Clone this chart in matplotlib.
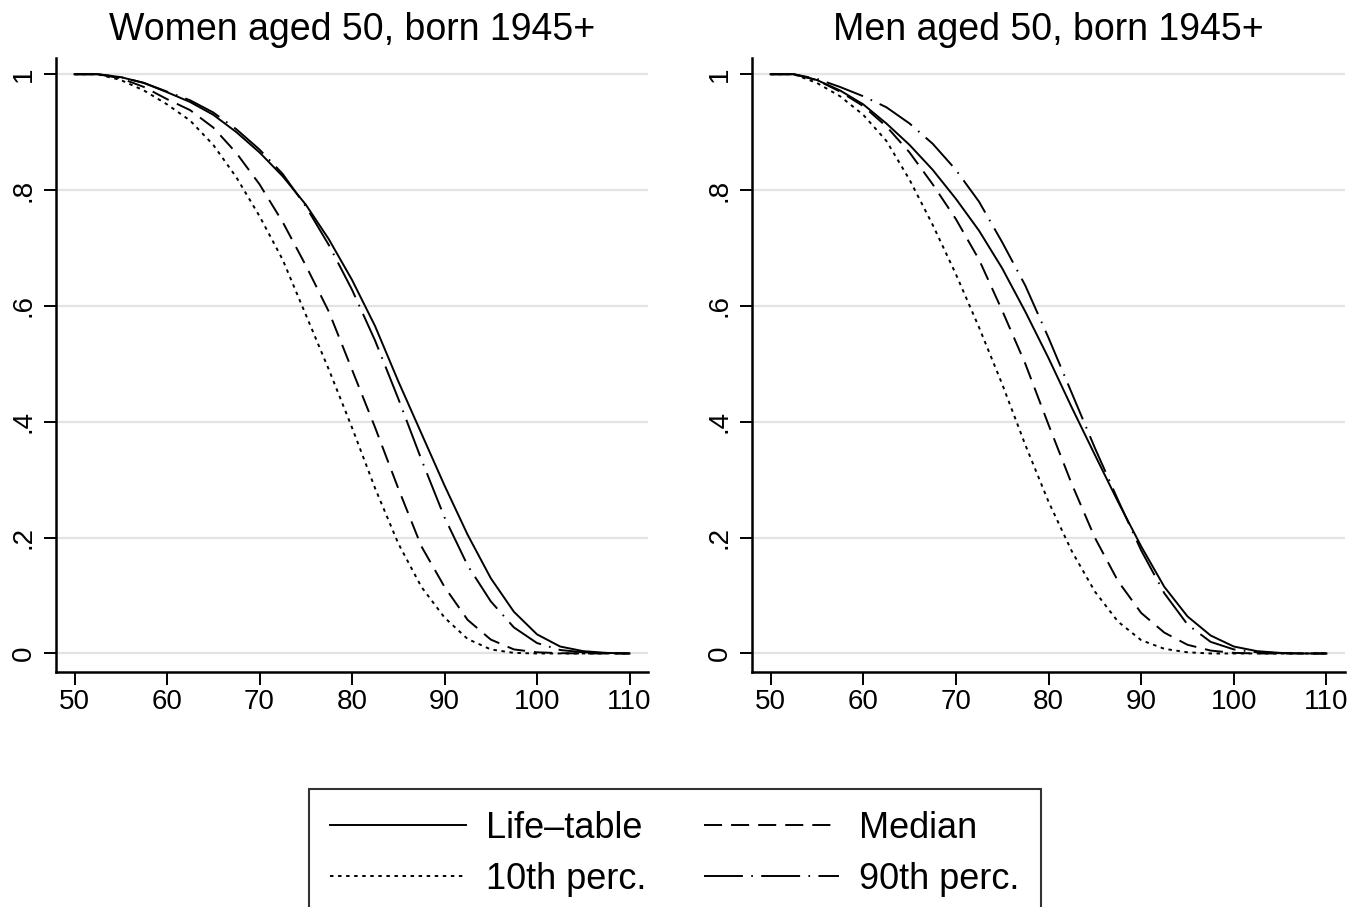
import matplotlib
matplotlib.use('Agg')
import matplotlib.pyplot as plt

plt.rcParams['font.family'] = ['Liberation Sans', 'DejaVu Sans']
plt.rcParams['lines.scale_dashes'] = False

# ages on the x axis (years)
ages = [50, 52.5, 55, 57.5, 60, 62.5, 65, 67.5, 70, 72.5, 75, 77.5, 80,
        82.5, 85, 87.5, 90, 92.5, 95, 97.5, 100, 102.5, 105, 107.5, 110]

# women, survival probability
women_lifetable = [1, 1, 0.995, 0.985, 0.969, 0.952, 0.93, 0.90, 0.865, 0.824,
                   0.775, 0.715, 0.645, 0.565, 0.47, 0.38, 0.29, 0.205, 0.13,
                   0.072, 0.033, 0.012, 0.004, 0.001, 0]
women_p10 = [1, 1, 0.99, 0.972, 0.948, 0.92, 0.878, 0.822, 0.755, 0.68,
             0.585, 0.49, 0.39, 0.285, 0.19, 0.115, 0.062, 0.025, 0.007,
             0.001, 0, 0, 0, 0, 0]
women_median = [1, 1, 0.993, 0.978, 0.957, 0.938, 0.908, 0.864, 0.81, 0.745,
                0.67, 0.59, 0.49, 0.39, 0.285, 0.185, 0.115, 0.058, 0.024,
                0.007, 0.002, 0.0005, 0, 0, 0]
women_p90 = [1, 1, 0.995, 0.985, 0.97, 0.955, 0.934, 0.905, 0.87, 0.828,
             0.772, 0.705, 0.628, 0.54, 0.44, 0.335, 0.235, 0.152, 0.09,
             0.045, 0.018, 0.006, 0.002, 0.0005, 0]

# men, right panel
men_lifetable = [1, 1, 0.99, 0.972, 0.948, 0.915, 0.878, 0.835, 0.785, 0.73,
                 0.665, 0.59, 0.51, 0.425, 0.343, 0.262, 0.185, 0.115, 0.064,
                 0.031, 0.012, 0.004, 0.001, 0, 0]
men_p10 = [1, 1, 0.985, 0.962, 0.93, 0.885, 0.818, 0.74, 0.655, 0.563,
           0.465, 0.36, 0.262, 0.177, 0.107, 0.055, 0.023, 0.008, 0.002,
           0, 0, 0, 0, 0, 0]
men_median = [1, 1, 0.99, 0.97, 0.945, 0.91, 0.865, 0.81, 0.75, 0.68,
              0.592, 0.5, 0.395, 0.293, 0.2, 0.125, 0.07, 0.036, 0.015,
              0.005, 0.001, 0, 0, 0, 0]
men_p90 = [1, 1, 0.992, 0.978, 0.962, 0.943, 0.915, 0.88, 0.835, 0.78,
           0.71, 0.635, 0.545, 0.45, 0.355, 0.265, 0.178, 0.104, 0.05,
           0.02, 0.007, 0.002, 0.0005, 0, 0]

x_ticks = [50, 60, 70, 80, 90, 100, 110]
y_ticks = [0, 0.2, 0.4, 0.6, 0.8, 1]
y_labels = ['0', '.2', '.4', '.6', '.8', '1']

styles = {
    'solid': '-',
    'dashed': (0, (13, 6.5)),
    'dotted': (0, (2.5, 3.3)),
    'dashdot': (0, (28, 6, 1.2, 6)),
}


def draw_panel(ax, title, lifetable, p10, median, p90):
    ax.plot(ages, lifetable, color='black', lw=1.4, ls=styles['solid'], label='Life–table')
    ax.plot(ages, p10, color='black', lw=1.4, ls=styles['dotted'], label='10th perc.')
    ax.plot(ages, median, color='black', lw=1.4, ls=styles['dashed'], label='Median')
    ax.plot(ages, p90, color='black', lw=1.4, ls=styles['dashdot'], label='90th perc.')

    ax.set_xlim(48, 112)
    ax.set_ylim(-0.032, 1.028)
    ax.set_xticks(x_ticks)
    ax.set_yticks(y_ticks)
    ax.set_yticklabels(y_labels, rotation=90, va='center')
    ax.tick_params(axis='both', labelsize=20, length=9, width=1.4, direction='out')
    ax.tick_params(axis='x', pad=3)
    ax.tick_params(axis='y', pad=5)
    ax.grid(axis='y', color='#e3e3e3', lw=1.6)
    ax.set_axisbelow(True)
    for side in ['top', 'right']:
        ax.spines[side].set_visible(False)
    for side in ['left', 'bottom']:
        ax.spines[side].set_linewidth(1.8)
    ax.set_title(title, fontsize=27, pad=13)


fig = plt.figure(figsize=(13.68, 9.07), dpi=100)
ax1 = fig.add_axes([56 / 1368, 235 / 907, 592 / 1368, 614 / 907])
ax2 = fig.add_axes([752 / 1368, 235 / 907, 593 / 1368, 614 / 907])

draw_panel(ax1, 'Women aged 50, born 1945+', women_lifetable, women_p10, women_median, women_p90)
draw_panel(ax2, 'Men aged 50, born 1945+', men_lifetable, men_p10, men_median, men_p90)

handles, labels = ax1.get_legend_handles_labels()
leg = fig.legend(handles, labels, loc='upper center', bbox_to_anchor=(675 / 1368, 1 - 789 / 907),
                 ncol=2, frameon=True, fancybox=False, edgecolor='black', fontsize=26,
                 handlelength=3.75, handletextpad=0.55, columnspacing=1.6, borderpad=0.6,
                 labelspacing=0.45, borderaxespad=0)
leg.get_frame().set_linewidth(1.5)

fig.savefig('out.png', dpi=100, facecolor='white')
